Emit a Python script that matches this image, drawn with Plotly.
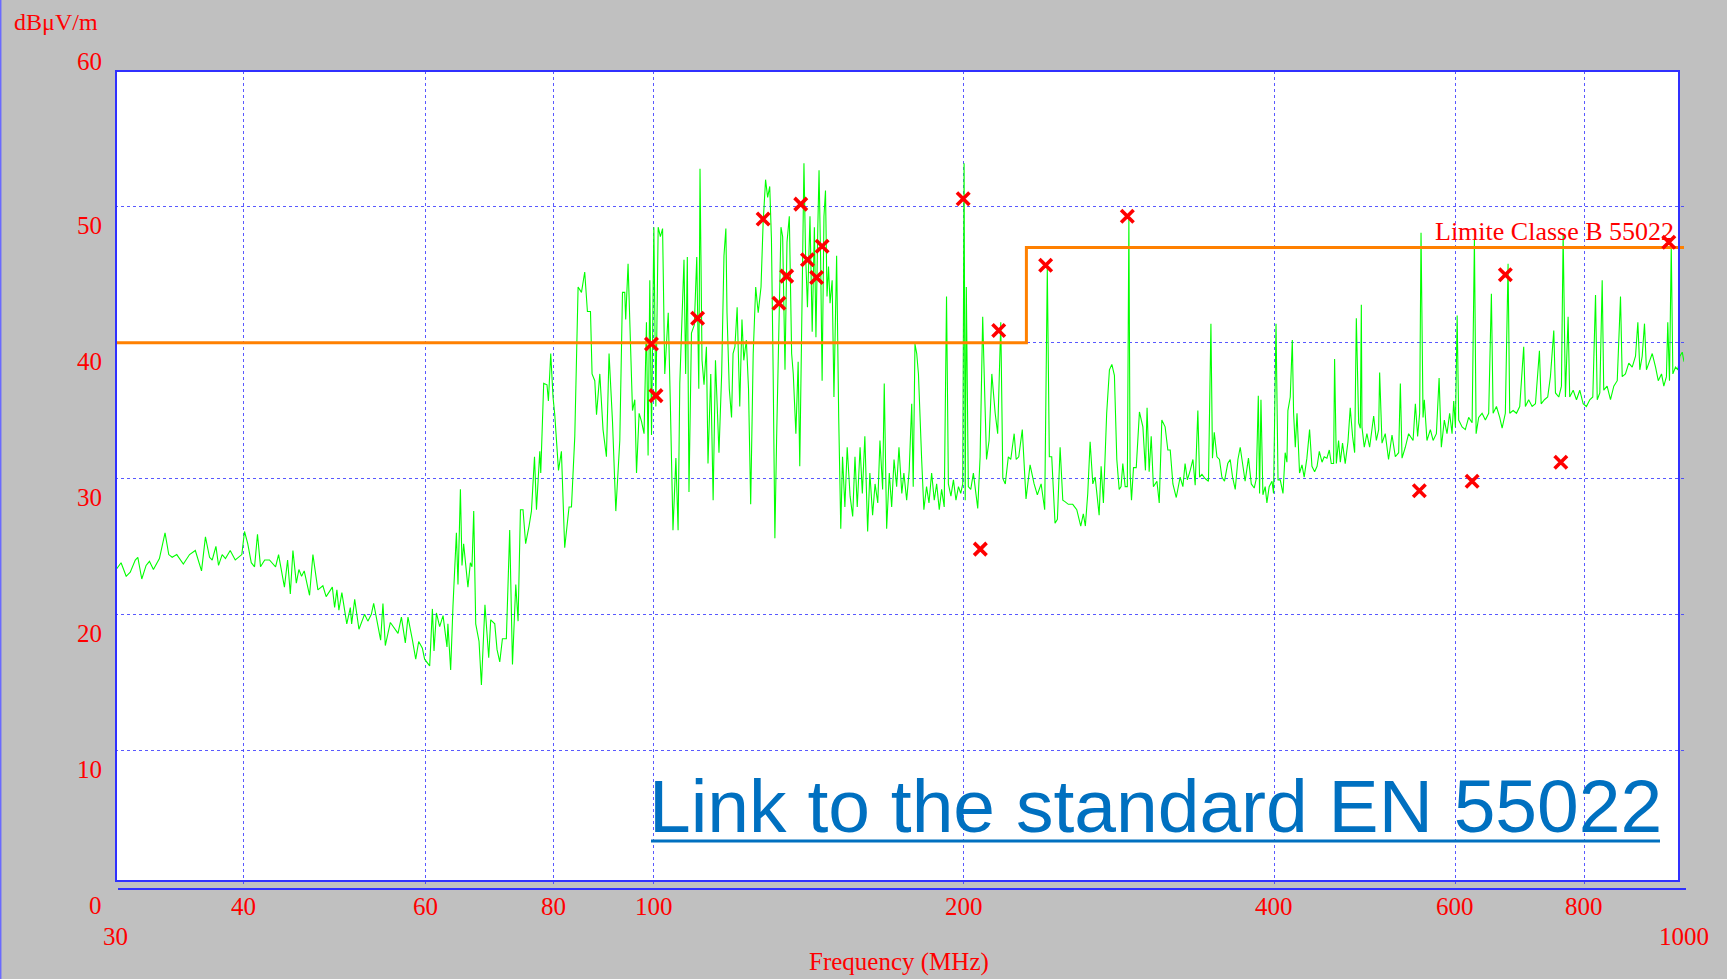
import numpy as np
import plotly.graph_objects as go

# ---------------- data ----------------
freq_mhz = [
30.08,30.41,30.76,31.04,31.39,31.57,31.85,32.16,32.40,32.69,33.13,33.55,33.83,34.09,34.44,34.95,35.44,35.90,36.40,36.72,
37.06,37.28,37.59,37.81,38.12,38.40,38.81,39.25,39.83,40.07,40.36,40.68,40.98,41.25,41.53,41.92,42.37,42.95,43.24,43.81,
44.12,44.39,44.65,44.99,45.25,45.52,45.79,46.34,46.69,47.21,47.74,48.09,48.76,49.01,49.26,49.48,49.81,50.36,50.76,50.91,
51.26,51.75,52.40,52.79,53.20,53.48,54.32,54.60,54.89,55.51,56.47,56.90,57.40,57.74,58.32,58.75,59.14,59.63,59.93,60.61,
60.98,61.20,61.53,61.98,62.45,63.00,63.13,63.52,63.85,64.34,64.57,64.92,65.15,65.39,66.02,66.38,66.62,66.88,67.18,67.68,
68.04,68.58,69.16,69.47,70.10,70.46,70.89,71.31,71.94,72.48,72.93,73.47,73.85,74.24,74.67,75.11,75.68,76.09,76.61,76.95,
77.52,77.69,78.20,78.78,79.03,79.44,79.85,80.16,80.83,81.36,81.96,82.76,83.21,83.83,84.45,85.09,85.71,86.23,86.82,87.13,
87.66,88.00,88.65,89.29,89.97,90.50,91.20,91.88,92.70,93.26,93.73,93.93,94.43,95.37,95.86,96.23,96.79,97.31,97.86,98.39,
98.75,99.13,99.51,100.03,100.48,101.0,101.5,102.0,102.5,103.3,103.8,104.4,105.08,105.6,106.0,106.6,107.0,107.4,107.8,108.2,
108.8,109.5,110.1,110.6,110.9,111.4,111.9,112.5,112.9,113.6,114.2,114.8,115.3,115.7,116.4,117.0,117.5,117.8,118.4,119.0,
119.4,119.9,120.5,121.2,121.8,122.3,123.0,123.6,124.2,124.9,125.6,126.3,127.1,127.7,128.4,129.0,129.6,130.1,130.6,131.1,
131.6,132.3,132.9,133.4,134.1,134.7,135.4,136.1,136.6,137.4,138.1,138.6,139.2,139.9,140.4,141.0,141.8,142.5,143.2,143.7,
144.3,144.7,145.2,145.7,146.3,146.8,147.3,147.8,148.3,149.0,149.6,150.5,151.2,151.9,152.5,153.3,154.1,155.1,156.0,156.8,
157.6,158.6,159.4,160.3,161.3,162.1,163.1,164.0,165.0,165.8,166.8,167.4,168.3,169.3,170.2,171.1,172.1,173.0,174.1,174.9,
176.0,177.0,178.0,178.6,179.3,180.0,180.7,181.3,182.0,182.9,184.0,185.0,186.1,187.2,188.2,189.3,190.3,191.4,192.4,193.2,
194.3,195.4,196.5,197.6,198.6,199.5,200.1,200.6,201.1,202.0,203.1,204.3,205.4,206.3,207.4,208.6,209.7,210.4,211.6,212.9,
214.5,215.7,217.2,218.2,219.4,220.9,222.1,223.8,224.8,226.1,227.9,229.8,231.9,234.0,235.7,237.7,239.6,241.0,242.1,243.4,
245.2,246.5,248.0,249.5,250.7,252.6,255.1,257.4,259.7,261.2,262.4,263.8,265.2,266.8,268.2,270.6,271.8,273.2,275.2,276.9,
278.4,280.0,281.5,283.0,284.2,285.3,286.8,288.2,289.2,290.0,290.9,292.2,294.0,296.1,298.4,300.1,301.2,302.6,304.0,305.5,
307.9,309.5,311.3,313.6,315.5,317.2,319.1,321.5,324.3,326.3,327.9,329.6,331.7,333.7,335.4,337.4,338.7,340.5,342.9,345.5,
347.4,348.6,350.0,352.1,354.1,356.0,358.1,360.7,362.7,364.6,366.8,369.0,370.9,373.1,375.0,377.8,380.2,382.7,384.5,386.2,
387.3,388.5,390.2,392.2,393.7,395.7,398.2,399.6,401.8,403.6,405.6,408.1,410.1,411.7,412.6,414.8,416.7,417.9,419.5,421.1,
423.5,425.8,427.9,430.5,433.1,435.4,438.0,440.4,442.6,445.3,447.5,450.2,452.6,454.6,457.0,458.0,459.8,462.1,463.9,466.2,
469.0,471.9,474.3,476.8,479.0,480.8,483.3,485.1,486.2,486.9,489.4,492.3,495.3,499.8,502.8,505.4,506.5,509.2,512.9,516.7,
520.7,524.6,528.5,530.5,532.5,536.4,540.4,545.8,548.6,551.4,553.9,555.6,558.1,559.7,563.0,567.3,570.8,575.0,578.5,581.4,
585.3,588.8,592.3,595.5,597.7,600.0,602.3,604.4,609.0,613.4,618.0,622.8,626.0,628.4,632.0,636.8,641.5,646.3,650.2,652.7,
657.6,662.4,666.0,670.8,674.9,677.4,682.6,687.7,692.7,698.9,701.5,706.7,712.2,717.5,723.9,726.7,732.0,737.4,741.9,747.5,
750.3,755.9,760.4,763.3,767.2,771.8,774.6,780.6,786.4,792.2,798.2,804.0,810.1,815.6,820.6,823.7,828.5,832.9,835.8,842.1,
848.5,854.8,861.4,867.7,871.0,877.3,883.9,890.7,897.3,902.0,906.0,910.8,915.5,919.5,924.3,931.5,938.4,944.1,951.0,955.9,
961.5,964.4,968.1,971.9,975.4,981.3,986.4,990.8,996.1,1000.0]

level_dbuv = [
23.3,23.8,22.8,23.1,24.0,24.2,22.6,23.6,23.9,23.3,24.1,26.0,24.4,24.2,24.4,23.7,24.4,24.7,23.2,25.7,
24.2,24.0,25.0,23.6,24.4,24.1,24.7,24.0,24.4,26.1,25.2,23.8,23.5,25.9,23.5,24.0,24.0,23.5,24.4,22.0,
24.0,21.5,24.7,22.3,23.3,22.8,23.2,21.4,24.4,21.8,22.1,21.3,22.0,20.5,21.8,20.3,21.6,19.3,20.5,19.3,
21.1,18.9,20.0,19.5,20.0,20.8,18.1,20.8,17.7,19.4,18.6,19.8,17.9,19.8,18.1,16.7,18.0,17.5,16.7,16.2,
20.4,17.3,20.1,19.1,19.9,17.6,19.3,15.9,20.6,26.0,22.2,29.2,23.6,25.2,22.0,23.8,23.5,27.6,19.3,18.0,
14.8,20.7,16.8,19.6,19.3,17.4,16.5,18.2,18.2,26.2,16.3,22.2,19.5,27.7,27.7,25.2,26.5,27.6,31.6,27.7,
32.0,30.4,37.0,36.9,35.7,39.2,36.0,34.7,30.6,32.0,24.9,27.9,27.9,33.1,44.1,43.7,45.2,42.3,42.3,37.7,
37.2,34.7,37.7,33.6,31.6,39.2,34.2,27.6,32.8,43.7,43.7,41.7,45.8,35.0,35.8,30.4,34.8,34.2,33.3,41.5,
31.7,44.6,33.2,48.5,35.3,48.5,47.8,48.4,37.7,42.2,35.3,26.2,31.5,26.2,37.0,42.4,46.1,37.7,46.3,29.0,
40.7,41.3,46.3,36.6,52.8,38.7,36.9,39.7,31.1,37.7,28.4,38.7,35.3,31.9,37.7,46.4,48.4,42.2,36.6,34.5,
39.2,39.7,42.6,35.3,41.7,38.7,40.2,36.6,28.1,39.2,44.1,42.2,44.1,48.8,52.0,50.7,51.5,47.6,37.7,25.6,
32.8,40.2,48.5,47.8,38.0,47.4,49.3,39.2,37.7,33.3,38.6,30.9,40.7,53.2,46.6,42.6,49.3,40.8,48.5,40.4,
48.4,52.7,46.3,37.2,49.3,51.2,43.4,45.6,42.9,44.6,36.0,46.4,34.5,26.3,31.6,27.9,32.3,28.7,27.2,31.6,
27.9,32.3,28.9,33.1,26.1,30.4,27.3,29.6,28.2,32.8,29.2,37.0,26.3,30.4,27.9,31.4,29.4,32.3,28.9,30.4,
28.4,30.6,35.5,29.4,39.9,39.2,37.7,34.3,31.4,27.7,29.4,28.2,30.4,28.4,29.6,27.7,29.2,27.9,43.4,29.6,
28.7,29.9,28.4,29.4,28.9,29.6,53.2,28.4,44.1,29.4,29.2,30.4,28.9,27.8,31.6,41.9,35.3,31.4,32.8,37.7,
34.8,33.3,41.5,30.0,29.6,31.6,31.4,33.3,31.4,31.6,33.6,28.5,31.0,29.6,28.8,29.6,27.7,45.5,31.6,31.6,
26.7,27.0,32.3,28.4,28.3,28.1,28.1,27.7,26.5,27.4,26.5,28.9,32.7,29.6,30.1,27.3,30.9,28.2,34.8,38.0,
38.4,37.6,31.4,29.2,29.4,31.1,29.4,29.4,49.1,30.4,28.4,30.8,30.8,34.9,33.8,30.6,35.2,30.5,33.1,29.4,
29.8,28.2,34.3,33.8,32.1,32.1,29.6,28.6,30.1,29.4,31.1,29.9,30.6,31.4,29.5,35.0,30.1,30.3,30.0,29.8,
41.4,31.5,33.4,31.6,31.4,30.1,29.8,31.1,31.4,30.1,29.2,31.4,32.3,31.1,29.8,31.5,29.6,29.3,30.0,36.1,
28.9,35.8,28.8,29.4,28.2,29.4,29.8,28.9,41.4,29.9,29.9,28.9,31.9,31.2,35.0,36.0,40.2,34.8,32.3,34.8,
30.4,31.0,30.1,31.5,33.6,30.9,30.5,30.9,32.0,31.2,31.6,31.5,32.1,31.1,31.1,38.8,31.1,32.8,31.2,32.6,
31.1,32.7,35.2,33.1,31.9,41.8,34.1,33.7,42.8,33.8,32.3,33.3,32.3,34.6,32.8,33.6,37.8,32.6,33.3,31.4,
33.2,31.6,31.9,37.0,31.5,32.3,33.3,32.8,35.5,33.1,34.8,48.1,34.5,35.8,32.8,33.6,32.8,33.3,37.4,32.3,
34.3,33.3,34.8,33.3,35.7,33.8,42.0,34.3,33.8,33.6,34.5,34.1,47.6,33.3,34.5,34.8,34.3,34.8,43.6,34.8,
35.3,34.5,33.7,34.8,45.8,34.8,35.0,34.8,35.3,39.7,35.3,35.8,35.3,35.5,39.4,35.5,35.8,36.0,37.5,40.9,
36.3,36.0,36.8,48.0,36.0,41.9,36.0,36.5,35.8,36.5,35.5,35.3,35.8,36.0,43.5,35.8,36.3,44.6,36.5,36.8,
35.8,36.8,37.2,43.4,37.5,37.7,38.5,38.2,39.0,41.5,38.0,39.0,41.4,38.0,38.5,39.2,38.2,37.2,37.7,36.8,
37.5,41.5,37.2,47.1,37.7,38.2,38.0,39.0,39.3,38.6]

peak_freq = [99.5,100.5,110.3,127.7,132.3,134.6,138.9,141.0,143.9,145.7,
             199.7,207.5,216.2,240.1,288.2,553.5,622.8,670.8,759.3,966.6]
peak_level = [39.9,36.1,41.8,49.1,42.9,44.9,50.2,46.1,44.8,47.1,
              50.6,24.8,40.9,45.7,49.3,29.1,29.8,45.0,31.2,47.4]

limit_freq = [30, 230, 230, 1000]
limit_level = [40, 40, 47, 47]

x_grid = [40, 60, 80, 100, 200, 400, 600, 800]
x_end_labels = [30, 1000]
y_grid = [10, 20, 30, 40, 50]
y_labels = [0, 10, 20, 30, 40, 50, 60]

# ---------------- layout geometry ----------------
W, H = 1727, 979
L, R, T, B = 115, 43, 71, 93
PW, PH = W - L - R, H - T - B


def xp(px):
    return (px - L) / PW


def yp(py):
    return (H - B - py) / PH


RED = "#ff0000"
SERIF = "Liberation Serif, Times New Roman, serif"

fig = go.Figure()

fig.add_trace(go.Scatter(x=freq_mhz, y=level_dbuv, mode="lines",
                         line=dict(color="#00ff00", width=1.1),
                         hoverinfo="skip", showlegend=False))
fig.add_trace(go.Scatter(x=limit_freq, y=limit_level, mode="lines",
                         line=dict(color="#ff8000", width=3),
                         hoverinfo="skip", showlegend=False))
fig.add_trace(go.Scatter(x=peak_freq, y=peak_level, mode="markers",
                         marker=dict(symbol="x-thin", size=12.5,
                                     line=dict(color=RED, width=3.6)),
                         hoverinfo="skip", showlegend=False))

annotations = []
for v in y_labels:
    annotations.append(dict(x=xp(104), xref="paper", y=v, yref="y",
                            xanchor="right", yanchor="middle",
                            yshift=(10 if v == 60 else -19),
                            text=str(v), showarrow=False,
                            font=dict(family=SERIF, size=25, color=RED)))
for f in x_grid:
    annotations.append(dict(x=np.log10(f), xref="x", y=yp(906.5), yref="paper",
                            xanchor="center", yanchor="middle",
                            text=str(f), showarrow=False,
                            font=dict(family=SERIF, size=25, color=RED)))
for f in x_end_labels:
    annotations.append(dict(x=np.log10(f), xref="x", y=yp(936), yref="paper",
                            xanchor="center", yanchor="middle",
                            text=str(f), showarrow=False,
                            font=dict(family=SERIF, size=25, color=RED)))

annotations += [
    dict(x=xp(12), xref="paper", y=yp(22), yref="paper", xanchor="left",
         yanchor="middle", text="dBμV/m", showarrow=False,
         font=dict(family=SERIF, size=24, color=RED)),
    dict(x=xp(899), xref="paper", y=yp(962), yref="paper", xanchor="center",
         yanchor="middle", text="Frequency (MHz)", showarrow=False,
         font=dict(family=SERIF, size=25, color=RED)),
    dict(x=xp(1676), xref="paper", y=yp(232), yref="paper", xanchor="right",
         yanchor="middle", text="Limite Classe B 55022", showarrow=False,
         font=dict(family=SERIF, size=26, color=RED)),
    dict(x=xp(1155.5), xref="paper", y=yp(806), yref="paper", xanchor="center",
         yanchor="middle", text="Link to the standard EN 55022",
         showarrow=False,
         font=dict(family="Liberation Sans, Arial, sans-serif", size=75,
                   color="#0070c0")),
]

BLUE = "#3030ff"
shapes = [
    # white plotting surface (plot frame is a bit narrower than the axis span)
    dict(type="rect", xref="paper", yref="paper", x0=0, x1=xp(1679),
         y0=yp(881), y1=1, fillcolor="white", line=dict(width=0), layer="below"),
    # frame
    dict(type="rect", xref="paper", yref="paper", x0=xp(116), x1=xp(1679),
         y0=yp(881), y1=yp(71), line=dict(color=BLUE, width=2), layer="above"),
    # separate x-axis line below the frame
    dict(type="line", xref="paper", yref="paper", x0=xp(118), x1=xp(1686),
         y0=yp(889), y1=yp(889), line=dict(color=BLUE, width=2), layer="above"),
    # thin left edge line of the picture
    dict(type="line", xref="paper", yref="paper", x0=xp(0.7), x1=xp(0.7),
         y0=yp(979), y1=yp(0), line=dict(color="#6a6aff", width=1.5), layer="above"),
    # hyperlink underline
    dict(type="line", xref="paper", yref="paper", x0=xp(651), x1=xp(1660),
         y0=yp(841), y1=yp(841), line=dict(color="#0070c0", width=3), layer="above"),
]

fig.update_layout(
    width=W, height=H, autosize=False,
    margin=dict(l=L, r=R, t=T, b=B, pad=0),
    paper_bgcolor="#c0c0c0", plot_bgcolor="#c0c0c0",
    showlegend=False,
    xaxis=dict(type="log", range=[np.log10(30), 3], tickvals=x_grid,
               showticklabels=False, ticks="", showgrid=True,
               gridcolor="rgba(60,60,255,0.85)", griddash="dot", gridwidth=1,
               zeroline=False, showline=False, fixedrange=True),
    yaxis=dict(range=[0, 60], tickvals=y_grid, showticklabels=False, ticks="",
               showgrid=True, gridcolor="rgba(60,60,255,0.85)", griddash="dot",
               gridwidth=1, zeroline=False, showline=False, fixedrange=True),
    annotations=annotations,
    shapes=shapes,
)

fig.write_html("out.html", config={"displayModeBar": False},
               post_script="document.body.style.margin='0';")
